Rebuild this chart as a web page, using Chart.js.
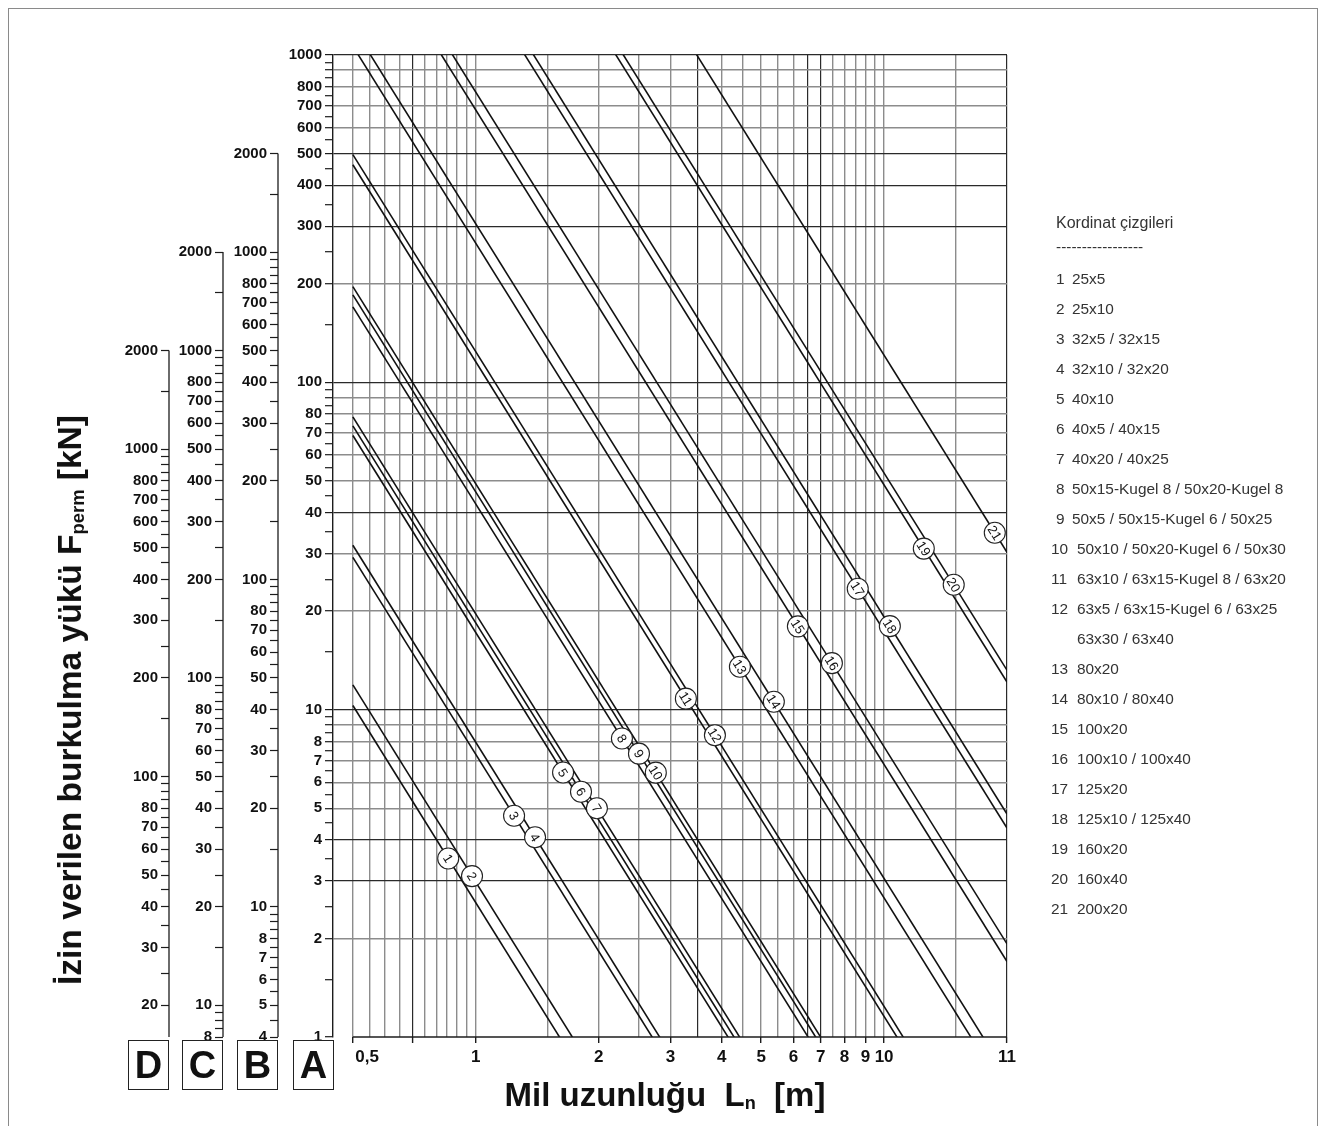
<!DOCTYPE html>
<html>
<head>
<meta charset="utf-8">
<script src="https://cdn.jsdelivr.net/npm/chart.js@4.4.0/dist/chart.umd.min.js"></script>
<style>
  body { margin: 0; background: #fff; }
  #wrap { position: relative; width: 1325px; height: 1126px; overflow: hidden; font-family: "Liberation Sans", Arial, sans-serif; }
  #frame { position: absolute; left: 8px; top: 8px; width: 1310px; height: 1140px; border: 1px solid #8a8a8a; box-sizing: border-box; }
  #chartBox { position: absolute; left: 0; top: 0; width: 1325px; height: 1126px; }
  .box { position: absolute; top: 1040px; width: 41px; height: 50px; box-sizing: border-box; border: 1.6px solid #222; font-weight: bold; font-size: 38px; line-height: 48px; text-align: center; color: #111; }
  .title { position: absolute; font-weight: bold; color: #111; white-space: nowrap; }
  .title sub { font-size: 0.55em; vertical-align: -0.15em; }
  #xTitle { left: 0; width: 1330px; top: 1076px; font-size: 33px; text-align: center; }
  #yTitle { left: 70px; top: 700px; font-size: 33.5px; transform: translate(-50%, -50%) rotate(-90deg); }
  .leg { position: absolute; font-size: 15.4px; color: #333; white-space: nowrap; line-height: 18px; }
  .leg.head { font-size: 16px; }
</style>
</head>
<body>
<div id="wrap">
  <div id="frame"></div>
  <div id="chartBox"><canvas id="buckling"></canvas></div>
  <div class="box" style="left:128px">D</div>
  <div class="box" style="left:182px">C</div>
  <div class="box" style="left:237px">B</div>
  <div class="box" style="left:293px">A</div>
  <div class="title" id="xTitle">Mil uzunluğu&nbsp; L<sub>n</sub>&nbsp; [m]</div>
  <div class="title" id="yTitle">İzin verilen burkulma yükü F<sub>perm</sub> [kN]</div>
  <div id="legend"></div>
</div>
<script>
// one straight line per spindle group, F read on scale A (kN) where it meets L = 0,5 m and L = 20 m
const lineNames = ["1", "2", "3", "4", "5", "6", "7", "8", "9", "10", "11", "12", "13", "14", "15", "16", "17", "18", "19", "20", "21"]
const forceAtShort = [10.3, 11.9, 29.2, 31.8, 68.8, 73.6, 78.4, 170, 185, 196, 462, 496, 1064, 1220, 2716, 3080, 6960, 7684, 19440, 21160, 48400]
const forceAtLong = [0.0064, 0.0074, 0.0183, 0.0199, 0.043, 0.046, 0.049, 0.106, 0.1155, 0.122, 0.289, 0.31, 0.665, 0.7625, 1.70, 1.925, 4.35, 4.80, 12.15, 13.2, 30.25]
// where the circled number sits on each line (L in m)
const badgeAt = [0.856, 0.979, 1.241, 1.397, 1.636, 1.81, 1.98, 2.28, 2.51, 2.76, 3.27, 3.852, 4.435, 5.37, 6.15, 7.45, 8.62, 10.33, 12.51, 14.81, 18.67]

const lengthStart = 0.5
const lengthEnd = 20

// x axis: labelled lengths (the last one is printed "11" in the original)
const xLabelText = { 0.5: "      0,5", 1: "1", 2: "2", 3: "3", 4: "4", 5: "5", 6: "6", 7: "7", 8: "8", 9: "9", 10: "10", 20: "11" }
const xMarked = new Set([0.5, 0.7, 1, 2, 3, 4, 5, 6, 7, 8, 9, 10, 20])
const xDark = new Set([0.7, 3.5, 6.5, 7, 20])

// y scales: A is the plot scale, B/C/D are the same lines at x4, x8, x16
const aLabels = new Set([1, 2, 3, 4, 5, 6, 7, 8, 10, 20, 30, 40, 50, 60, 70, 80, 100, 200, 300, 400, 500, 600, 700, 800, 1000])
const bLabels = new Set([4, 5, 6, 7, 8, 10, 20, 30, 40, 50, 60, 70, 80, 100, 200, 300, 400, 500, 600, 700, 800, 1000, 2000])
const cLabels = new Set([8, 10, 20, 30, 40, 50, 60, 70, 80, 100, 200, 300, 400, 500, 600, 700, 800, 1000, 2000])
const dLabels = new Set([20, 30, 40, 50, 60, 70, 80, 100, 200, 300, 400, 500, 600, 700, 800, 1000, 2000])
const yDark = new Set([3, 4, 10, 40, 100, 300, 400, 500, 1000])

const legendNums = ["1", "2", "3", "4", "5", "6", "7", "8", "9", "10", "11", "12", "", "13", "14", "15", "16", "17", "18", "19", "20", "21"]
const legendTexts = ["25x5", "25x10", "32x5 / 32x15", "32x10 / 32x20", "40x10", "40x5 / 40x15", "40x20 / 40x25",
  "50x15-Kugel 8 / 50x20-Kugel 8", "50x5 / 50x15-Kugel 6 / 50x25", "50x10 / 50x20-Kugel 6 / 50x30",
  "63x10 / 63x15-Kugel 8 / 63x20", "63x5 / 63x15-Kugel 6 / 63x25", "63x30 / 63x40", "80x20", "80x10 / 80x40",
  "100x20", "100x10 / 100x40", "125x20", "125x10 / 125x40", "160x20", "160x40", "200x20"]

const DARK = "#1c1c1c"
const GRAY = "#8c8c8c"
const NONE = "rgba(0,0,0,0)"

function stepTicks(parts) {
  const out = new Set()
  parts.forEach(([from, to, step]) => {
    for (let v = from; v <= to + 1e-9; v += step) out.add(Math.round(v * 1000) / 1000)
  })
  return [...out].sort((a, b) => a - b)
}

const xGrid = stepTicks([[0.5, 1, 0.05], [1, 10, 0.5], [10, 20, 5]])
const yGrid = new Set(stepTicks([[2, 10, 1], [10, 100, 10], [100, 1000, 100]]))
const aTicks = stepTicks([[1, 10, 0.5], [10, 100, 5], [100, 1000, 50]])
const bTicks = stepTicks([[4, 10, 0.5], [10, 100, 5], [100, 1000, 50], [1000, 2000, 500]])
const cTicks = stepTicks([[8, 10, 0.5], [10, 100, 5], [100, 1000, 50], [1000, 2000, 500]])
const dTicks = stepTicks([[20, 100, 5], [100, 1000, 50], [1000, 2000, 500]])

// legend
const legend = document.getElementById("legend")
function addLeg(text, left, top, cls) {
  const el = document.createElement("div")
  el.className = "leg" + (cls ? " " + cls : "")
  el.style.left = left + "px"
  el.style.top = top + "px"
  el.textContent = text
  legend.appendChild(el)
}
addLeg("Kordinat çizgileri", 1056, 214, "head")
addLeg("-----------------", 1056, 238)
legendTexts.forEach((t, i) => {
  const top = 270 + i * 30
  const n = legendNums[i]
  if (n) addLeg(n, n.length > 1 ? 1051 : 1056, top)
  addLeg(t, n.length === 1 ? 1072 : 1077, top)
})

Chart.defaults.font.family = "'Liberation Sans', Arial, sans-serif"
Chart.defaults.color = "#111"

function fixedTicks(values) {
  return (scale) => { scale.ticks = values.map((v) => ({ value: v })) }
}
function fixedWidth(w) {
  return (scale) => { scale.width = w }
}
function sideScale(min, ticks, labels, weight, width) {
  return {
    type: "logarithmic",
    position: "left",
    min: min,
    max: min * 1000,
    weight: weight,
    afterBuildTicks: fixedTicks(ticks),
    afterFit: fixedWidth(width),
    border: { display: false },
    grid: { drawOnChartArea: false, tickLength: 8, tickColor: DARK, tickWidth: 1.2 },
    ticks: {
      autoSkip: false,
      padding: 3,
      font: { size: 15, weight: "bold" },
      color: "#111",
      callback: (v) => (labels.has(v) ? String(v) : "")
    }
  }
}

const datasets = lineNames.map((name, i) => ({
  label: name,
  data: [{ x: lengthStart, y: forceAtShort[i] }, { x: lengthEnd, y: forceAtLong[i] }],
  borderColor: "#111",
  borderWidth: 1.6,
  pointRadius: 0,
  tension: 0,
  clip: 0
}))

const overlay = {
  id: "overlay",
  afterDatasetsDraw(chart) {
    const ctx = chart.ctx
    const x = chart.scales.x
    const y = chart.scales.y
    ctx.save()
    ctx.strokeStyle = DARK
    ctx.lineWidth = 1.6
    ctx.beginPath()
    ctx.moveTo(x.getPixelForValue(lengthStart), y.bottom)
    ctx.lineTo(x.right, y.bottom)
    ctx.stroke()
    ctx.lineWidth = 1.3
    ;["b", "c", "d"].forEach((id) => {
      const s = chart.scales[id]
      ctx.beginPath()
      ctx.moveTo(s.right, s.getPixelForValue(s.min))
      ctx.lineTo(s.right, s.getPixelForValue(2000))
      ctx.stroke()
    })
    chart.data.datasets.forEach((ds, i) => {
      const pts = chart.getDatasetMeta(i).data
      const p0 = pts[0]
      const p1 = pts[1]
      const px = x.getPixelForValue(badgeAt[i])
      const t = (px - p0.x) / (p1.x - p0.x)
      const py = p0.y + t * (p1.y - p0.y)
      const ang = Math.atan2(p1.y - p0.y, p1.x - p0.x)
      ctx.beginPath()
      ctx.arc(px, py, 10.5, 0, Math.PI * 2)
      ctx.fillStyle = "#fff"
      ctx.fill()
      ctx.lineWidth = 1.1
      ctx.strokeStyle = "#222"
      ctx.stroke()
      ctx.save()
      ctx.translate(px, py)
      ctx.rotate(ang)
      ctx.fillStyle = "#111"
      ctx.font = "13px 'Liberation Sans', Arial, sans-serif"
      ctx.textAlign = "center"
      ctx.textBaseline = "middle"
      ctx.fillText(lineNames[i], 0, 1)
      ctx.restore()
    })
    ctx.restore()
  }
}

new Chart(document.getElementById("buckling"), {
  type: "line",
  data: { datasets },
  options: {
    responsive: true,
    maintainAspectRatio: false,
    animation: false,
    layout: { padding: { left: 0, right: 318, top: 55, bottom: 0 } },
    plugins: { legend: { display: false }, tooltip: { enabled: false } },
    scales: {
      x: {
        type: "logarithmic",
        min: 0.447,
        max: lengthEnd,
        afterBuildTicks: fixedTicks(xGrid),
        afterFit: (s) => { s.height = 89 },
        border: { display: false },
        grid: {
          color: (c) => (c.tick && xDark.has(c.tick.value) ? "#2a2a2a" : GRAY),
          lineWidth: (c) => (c.tick && xDark.has(c.tick.value) ? 1.2 : 1.4),
          tickLength: 6,
          tickWidth: 1.4,
          tickColor: (c) => (c.tick && xMarked.has(c.tick.value) ? DARK : NONE)
        },
        ticks: {
          autoSkip: false,
          maxRotation: 0,
          padding: 4,
          font: { size: 17, weight: "bold" },
          color: "#111",
          callback: (v) => xLabelText[v] || ""
        }
      },
      y: {
        type: "logarithmic",
        position: "left",
        min: 1,
        max: 1000,
        weight: 0,
        afterBuildTicks: fixedTicks(aTicks),
        afterFit: fixedWidth(55),
        border: { display: true, color: DARK, width: 1.4 },
        grid: {
          color: (c) => {
            if (!c.tick || !yGrid.has(c.tick.value)) return NONE
            return yDark.has(c.tick.value) ? "#2a2a2a" : GRAY
          },
          lineWidth: (c) => (c.tick && yDark.has(c.tick.value) ? 1.2 : 1.4),
          tickLength: 8,
          tickWidth: 1.2,
          tickColor: DARK
        },
        ticks: {
          autoSkip: false,
          padding: 3,
          font: { size: 15, weight: "bold" },
          color: "#111",
          callback: (v) => (aLabels.has(v) ? String(v) : "")
        }
      },
      b: sideScale(4, bTicks, bLabels, 1, 55),
      c: sideScale(8, cTicks, cLabels, 2, 54),
      d: sideScale(16, dTicks, dLabels, 3, 169)
    }
  },
  plugins: [overlay]
})
</script>
</body>
</html>
